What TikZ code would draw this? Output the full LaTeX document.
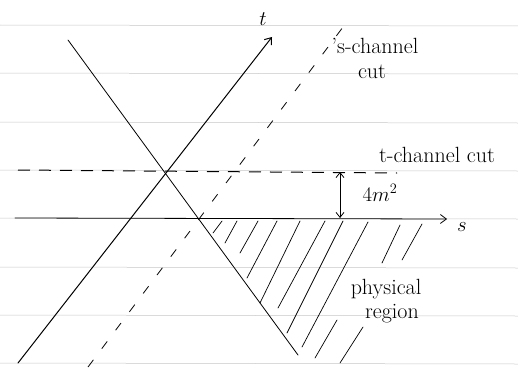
\documentclass[tikz,border=0pt]{standalone}
\usetikzlibrary{arrows.meta}
\begin{document}
\begin{tikzpicture}[x=1pt,y=-1pt,
  rule/.style={gray!45,line width=0.5pt},
  pen/.style={black,line width=0.8pt,line cap=round},
  dashpen/.style={black,line width=1pt,dash pattern=on 12pt off 9pt},
  sdash/.style={black,line width=0.8pt,dash pattern=on 9pt off 14pt},
  hatch/.style={black,line width=0.7pt,line cap=round},
  lbl/.style={font=\fontsize{22}{24}\selectfont,inner sep=0pt},
  tip/.style={-{Straight Barb[length=6pt,width=9pt]}}]
\useasboundingbox (0,0) rectangle (518,369);
% ruled paper
\foreach \yy in {25,73,122,170,218,267,315,363}
  \draw[rule] (0,\yy) -- (518,\yy+1);
% coordinates
\coordinate (ta) at (18,363);
\coordinate (tb) at (272,37);
\coordinate (ca) at (68,40);
\coordinate (cb) at (298,355);
\coordinate (sa) at (15,218);
\coordinate (sb) at (447,219);
\coordinate (ka) at (18,170);
\coordinate (kb) at (397,173);
\coordinate (da) at (88,367);
\coordinate (db) at (343,27);
\coordinate (ma) at (340,172);
\coordinate (mb) at (340,218);
% axes and lines
\draw[pen,line width=1pt,tip] (ta) -- (tb);
\draw[pen,tip] (sa) -- (sb);
\draw[pen] (ca) -- (cb);
\draw[dashpen] (ka) -- (kb);
\draw[sdash] (da) -- (db);
\draw[pen,{Straight Barb[length=5pt,width=8pt]}-{Straight Barb[length=5pt,width=8pt]}] (ma) -- (mb);
% hatching
\foreach \xa/\ya/\xb/\yb in {213/233/222/221, 225/243/237/221, 240/253/258/221,
   247/278/277/221, 260/303/300/221, 278/308/325/221, 287/333/343/221,
   302/347/368/222, 315/358/337/320, 340/363/363/327, 382/263/400/225,
   402/260/422/224}
  \draw[hatch] (\xa,\ya) -- (\xb,\yb);
% labels
\node[lbl] (tl) at (263,19) {$t$};
\node[lbl] (sl) at (462,227) {$s$};
\node[lbl] (sc1) at (375,46) {\textquoteright s-channel};
\node[lbl] (sc2) at (372,72) {cut};
\node[lbl] (tc) at (437,155) {t-channel cut};
\node[lbl] (mm) at (380,193) {$4m^2$};
\node[lbl] (ph) at (386,289) {physical};
\node[lbl] (rg) at (392,314) {region};
\end{tikzpicture}
\end{document}
